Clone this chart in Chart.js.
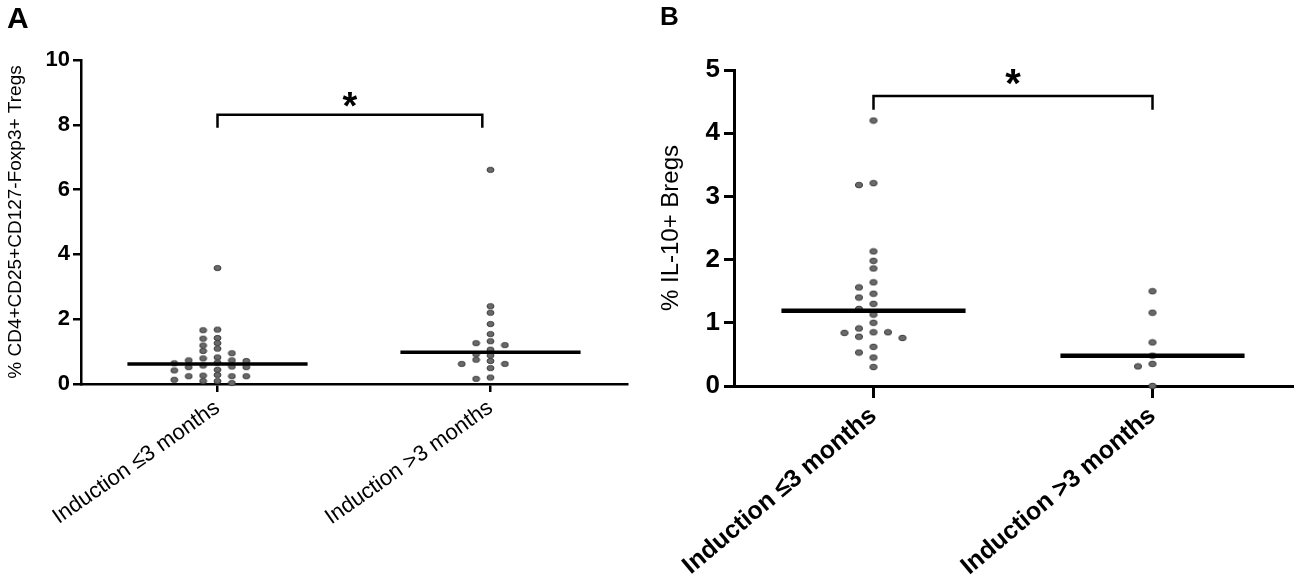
<!DOCTYPE html>
<html><head><meta charset="utf-8">
<script src="https://cdn.jsdelivr.net/npm/chart.js@4.4.1/dist/chart.umd.min.js"></script>
<style>
html,body{margin:0;padding:0;background:#fff;width:1297px;height:586px;overflow:hidden}
canvas{position:absolute;top:0}
#ca{left:0}
#cb{left:640px}
</style></head><body>
<canvas id="ca" width="640" height="586"></canvas>
<canvas id="cb" width="657" height="586"></canvas>
<script>
// ---------- data ----------
const categories = ['Induction \u22643 months', 'Induction >3 months'];

// Panel A: % CD4+CD25+CD127-Foxp3+ Tregs
const tregsShort = [3.58, 1.68, 1.66, 1.40, 1.42, 1.26, 1.19, 1.09, 1.02, 0.95, 0.82, 0.79,
  0.73, 0.71, 0.73, 0.64, 0.66, 0.54, 0.52, 0.57, 0.52, 0.44, 0.42, 0.28, 0.24, 0.26,
  0.24, 0.24, 0.13, 0.09, 0.09, 0.03];
const tregsLong = [6.61, 2.40, 2.20, 1.85, 1.54, 1.32, 1.26, 1.20, 1.06, 0.92, 0.88, 0.75,
  0.71, 0.62, 0.62, 0.49, 0.20, 0.16];
const tregsMedians = [0.62, 0.98];
const tregsTicks = [0, 2, 4, 6, 8, 10];

// Panel B: % IL-10+ Bregs
const bregsShort = [4.20, 3.21, 3.18, 2.13, 1.98, 1.86, 1.64, 1.56, 1.46, 1.40, 1.30, 1.22,
  1.13, 1.00, 0.91, 0.85, 0.84, 0.85, 0.76, 0.78, 0.62, 0.53, 0.45, 0.30];
const bregsLong = [1.50, 1.16, 0.69, 0.48, 0.35, 0.31, 0.00];
const bregsMedians = [1.19, 0.48];
const bregsTicks = [0, 1, 2, 3, 4, 5];

const significance = '*';

// ---------- helpers ----------
const FONT = '"Liberation Sans", Arial, Helvetica, sans-serif';

function dotImage(rx, ry) {
  const cv = document.createElement('canvas');
  cv.width = Math.ceil(rx * 2 + 2); cv.height = Math.ceil(ry * 2 + 2);
  const g = cv.getContext('2d');
  g.beginPath();
  g.ellipse(cv.width / 2, cv.height / 2, rx, ry, 0, 0, Math.PI * 2);
  g.fillStyle = '#6a6a6a'; g.fill();
  g.lineWidth = 1; g.strokeStyle = '#3a3a3a'; g.stroke();
  return cv;
}

function swarm(values, center, xs, ys, step, vgap) {
  const ppu = xs.getPixelForValue(1) - xs.getPixelForValue(0);
  const order = values.map((v, i) => i).sort((a, b) => values[b] - values[a]);
  const placed = [];
  const out = new Array(values.length);
  const half = step / 2;
  order.forEach(i => {
    const py = ys.getPixelForValue(values[i]);
    for (let k = 0; k < 60; k++) {
      const n = Math.ceil(k / 2);
      const off = (k % 2 === 1 ? -1 : 1) * n * half;
      const ok = placed.every(p => Math.abs(p.x - off) >= step - 0.01 || Math.abs(p.y - py) >= vgap);
      if (ok) {
        placed.push({x: off, y: py});
        out[i] = {x: center + off / ppu, y: values[i]};
        break;
      }
    }
  });
  return out;
}

const annot = {
  id: 'annot',
  afterDraw(chart, args, o) {
    const {ctx} = chart;
    const x = chart.scales.x, y = chart.scales.y;
    ctx.save();
    ctx.fillStyle = '#000';
    ctx.font = 'bold ' + o.starSize + 'px ' + FONT;
    ctx.textAlign = 'center';
    ctx.textBaseline = 'alphabetic';
    const m = ctx.measureText(significance);
    const cx = x.getPixelForValue((o.from + o.to) / 2);
    const cy = y.getPixelForValue(o.top) - o.starGap;
    ctx.fillText(significance, cx, cy + (m.actualBoundingBoxAscent - m.actualBoundingBoxDescent) / 2);
    ctx.font = 'bold ' + o.letterSize + 'px ' + FONT;
    ctx.textAlign = 'left';
    ctx.fillText(o.letter, o.letterX, o.letterY);
    ctx.restore();
  }
};

function build(id, c) {
  const hw = 0.33;
  const dot = dotImage(c.dotRx, c.dotRy);
  const lineDs = (pts, w) => ({
    data: pts, showLine: true, borderColor: '#000', borderWidth: w,
    pointRadius: 0, borderCapStyle: 'butt', borderJoinStyle: 'miter', order: 0, clip: false
  });
  const ptDs = (vals, i) => ({
    data: vals.map(v => ({x: i, y: v})), showLine: false,
    pointStyle: dot, pointRadius: 4, order: 1, clip: false
  });
  const chart = new Chart(document.getElementById(id), {
    type: 'scatter',
    data: {
      datasets: [
        lineDs([{x: -hw, y: c.medians[0]}, {x: hw, y: c.medians[0]}], c.medW),
        lineDs([{x: 1 - hw, y: c.medians[1]}, {x: 1 + hw, y: c.medians[1]}], c.medW),
        lineDs([{x: c.br.from, y: c.br.top - c.br.drop}, {x: c.br.from, y: c.br.top},
                {x: c.br.to, y: c.br.top}, {x: c.br.to, y: c.br.top - c.br.drop}], c.br.w),
        ptDs(c.groups[0], 0),
        ptDs(c.groups[1], 1)
      ]
    },
    options: {
      responsive: false, animation: false, events: [],
      layout: {padding: {top: c.padTop, right: c.padRight, left: 0, bottom: 0}},
      plugins: {
        legend: {display: false}, tooltip: {enabled: false},
        annot: {from: c.br.from, to: c.br.to, top: c.br.top, starSize: c.starSize, starGap: c.starGap,
                letter: c.letter, letterSize: c.letterSize, letterX: c.letterX, letterY: c.letterY}
      },
      scales: {
        x: {
          type: 'linear', min: -0.5, max: 1.5,
          afterBuildTicks: s => { s.ticks = categories.map((_, i) => ({value: i})); },
          afterFit: s => { s.height = c.xHeight; },
          ticks: {
            callback: v => categories[v], autoSkip: false,
            minRotation: c.xRot, maxRotation: c.xRot, color: '#000', padding: c.xPad,
            font: {family: FONT, size: c.xFont, weight: c.xWeight}
          },
          grid: {drawOnChartArea: false, drawTicks: true, tickLength: c.xTick, color: '#000', lineWidth: c.axisW},
          border: {display: true, color: '#000', width: c.axisW}
        },
        y: {
          type: 'linear', min: c.ticks[0], max: c.ticks[c.ticks.length - 1],
          afterBuildTicks: s => { s.ticks = c.ticks.map(v => ({value: v})); },
          afterFit: s => { s.width = c.yWidth; },
          ticks: {color: '#000', padding: c.yPad, font: {family: FONT, size: c.yFont, weight: 'bold'}},
          grid: {drawOnChartArea: false, drawTicks: true, tickLength: c.yTick, color: '#000', lineWidth: c.axisW},
          border: {display: true, color: '#000', width: c.axisW},
          title: {display: true, text: c.yTitle, color: '#000', padding: {top: c.titlePad, bottom: 0},
                  font: {family: FONT, size: c.titleSize, weight: 'normal'}}
        }
      }
    },
    plugins: [annot]
  });
  const xs = chart.scales.x, ys = chart.scales.y;
  chart.data.datasets[3].data = swarm(c.groups[0], 0, xs, ys, c.step, c.vgap);
  chart.data.datasets[4].data = swarm(c.groups[1], 1, xs, ys, c.step, c.vgap);
  chart.update('none');
  return chart;
}

build('ca', {
  groups: [tregsShort, tregsLong], medians: tregsMedians, ticks: tregsTicks,
  padTop: 60, padRight: 13, yWidth: 81, xHeight: 202,
  yFont: 22, yTick: 8, yPad: 3,
  yTitle: '% CD4+CD25+CD127-Foxp3+ Tregs', titleSize: 19, titlePad: 4,
  xFont: 22, xWeight: 'normal', xRot: 35, xTick: 8, xPad: 3,
  axisW: 2.5, medW: 3.5,
  br: {from: 0, to: 0.97, top: 8.31, drop: 0.4, w: 2.5},
  starSize: 38, starGap: 15,
  dotRx: 3.5, dotRy: 2.6, step: 14.4, vgap: 5,
  letter: 'A', letterSize: 30, letterX: 7, letterY: 28
});

build('cb', {
  groups: [bregsShort, bregsLong], medians: bregsMedians, ticks: bregsTicks,
  padTop: 70, padRight: 5, yWidth: 94, xHeight: 200,
  yFont: 26, yTick: 10, yPad: 4,
  yTitle: '% IL-10+ Bregs', titleSize: 24, titlePad: 17,
  xFont: 25, xWeight: 'bold', xRot: 40, xTick: 12, xPad: 3,
  axisW: 3, medW: 4.5,
  br: {from: 0, to: 1, top: 4.59, drop: 0.22, w: 2.5},
  starSize: 40, starGap: 19,
  dotRx: 3.6, dotRy: 2.8, step: 14.5, vgap: 6,
  letter: 'B', letterSize: 26, letterX: 20, letterY: 25
});
</script>
</body></html>
